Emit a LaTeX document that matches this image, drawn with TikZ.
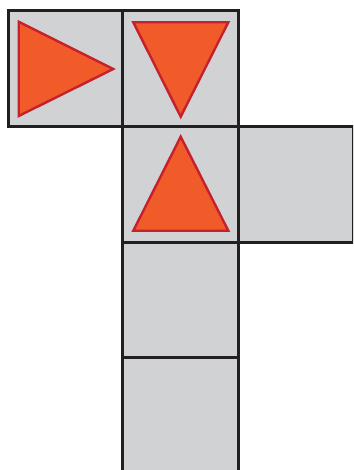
\documentclass[tikz,border=0pt]{standalone}
\definecolor{cellgray}{HTML}{D1D2D4}
\definecolor{tri}{HTML}{F15A29}
\definecolor{triedge}{HTML}{C4202E}
\definecolor{ink}{HTML}{231F20}
\tikzset{
  cell/.style={fill=cellgray, draw=ink, line width=3pt},
  tri/.style={fill=tri, draw=triedge, line width=2.4pt, line join=miter}
}
\begin{document}
\begin{tikzpicture}[x=1pt,y=-1pt]
\useasboundingbox (0,0) rectangle (353,470);
\clip (0,0) rectangle (353,470);
% cells
\draw[cell] (8,11) rectangle (122.5,126.5);
\draw[cell] (122.5,11) rectangle (238,126.5);
\draw[cell] (122.5,126.5) rectangle (238,242);
\draw[cell] (238,126.5) rectangle (353.5,242);
\draw[cell] (122.5,242) rectangle (238,357);
\draw[cell] (122.5,357) rectangle (238,473);
% triangles
\draw[tri] (18.7,21.7) -- (113.3,69) -- (18.7,116) -- cycle;
\draw[tri] (133.3,22.3) -- (228.3,22.3) -- (180.7,116.7) -- cycle;
\draw[tri] (180.7,136.7) -- (228.3,230.7) -- (133.3,230.7) -- cycle;
\end{tikzpicture}
\end{document}
